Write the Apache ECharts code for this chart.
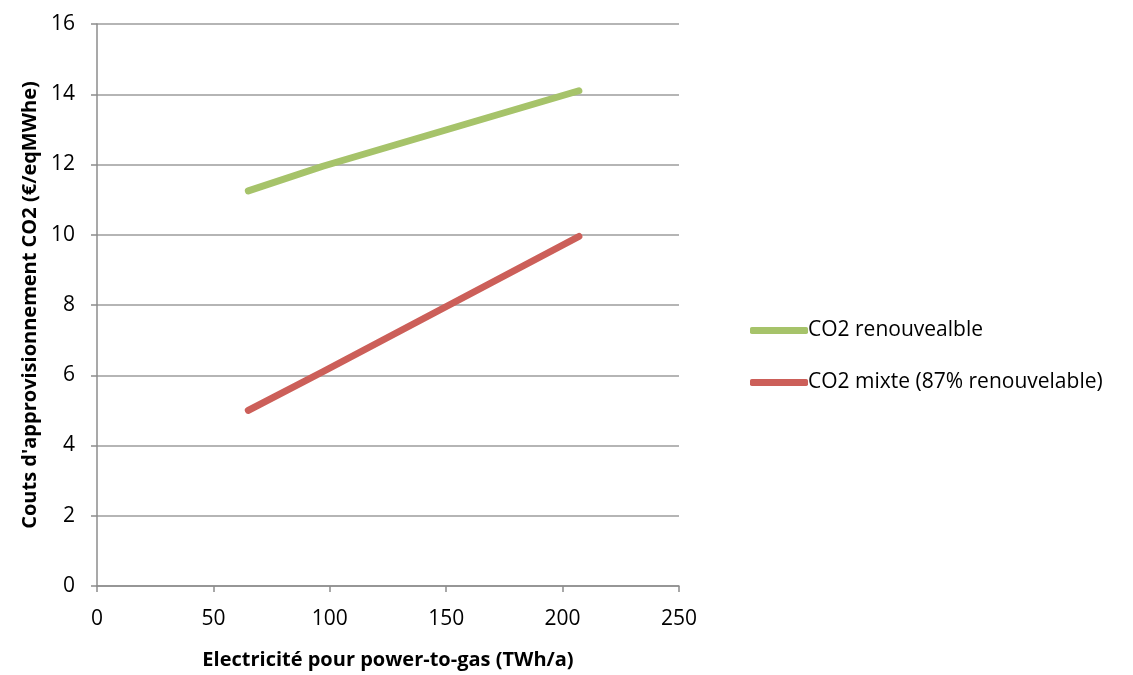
<!DOCTYPE html>
<html><head><meta charset="utf-8">
<script src="https://cdn.jsdelivr.net/npm/echarts@6/dist/echarts.min.js"></script>
<style>html,body{margin:0;padding:0;background:#fff}#c{width:1133px;height:675px}</style>
</head><body><div id="c"></div>
<script>
const seriesNames = ['CO2 renouvealble', 'CO2 mixte (87% renouvelable)'];
const greenX = [65, 97, 207];
const greenY = [11.25, 11.95, 14.1];
const redX = [65, 97, 207];
const redY = [5.0, 6.1, 9.95];
const xTitle = 'Electricité pour power-to-gas (TWh/a)';
const yTitle = "Couts d'approvisionnement CO2 (€/eqMWhe)";
const FONT = 'Open Sans';
const pair = (xs, ys) => xs.map((x, i) => [x, ys[i]]);
const chart = echarts.init(document.getElementById('c'));
chart.setOption({
  animation: false,
  grid: {left: 97, right: 454, top: 24, bottom: 89, containLabel: false, outerBoundsMode: 'none'},
  legend: {
    orient: 'vertical', left: 745, top: 315, itemGap: 31,
    itemWidth: 58, itemHeight: 7, icon: 'roundRect',
    textStyle: {fontFamily: FONT, fontSize: 21, color: '#000', padding: [0,0,0,-5]},
    data: seriesNames
  },
  xAxis: {
    type: 'value', min: 0, max: 250, interval: 50,
    name: xTitle, nameLocation: 'middle', nameGap: 64,
    nameTextStyle: {fontFamily: FONT, fontSize: 20, fontWeight: 'bold', color: '#000'},
    axisLine: {lineStyle: {color: '#8c8c8c', width: 1.5}},
    axisTick: {show: true, length: 6, lineStyle: {color: '#8c8c8c', width: 1.5}},
    axisLabel: {fontFamily: FONT, fontSize: 21, color: '#000', margin: 23},
    splitLine: {show: false}
  },
  yAxis: {
    type: 'value', min: 0, max: 16, interval: 2,
    name: yTitle, nameLocation: 'middle', nameGap: 56,
    nameTextStyle: {fontFamily: FONT, fontSize: 20, fontWeight: 'bold', color: '#000'},
    axisLine: {show: true, lineStyle: {color: '#8c8c8c', width: 1.5}},
    axisTick: {show: true, length: 6, lineStyle: {color: '#8c8c8c', width: 1.5}},
    axisLabel: {fontFamily: FONT, fontSize: 21, color: '#000', margin: 22},
    splitLine: {show: true, lineStyle: {color: '#9c9c9c', width: 1.5}}
  },
  series: [
    {name: seriesNames[0], type: 'line', data: pair(greenX, greenY), symbol: 'none',
     color: '#a6c36a', lineStyle: {width: 7, cap: 'round', join: 'round'}, itemStyle: {color: '#a6c36a'}},
    {name: seriesNames[1], type: 'line', data: pair(redX, redY), symbol: 'none',
     color: '#cc5f59', lineStyle: {width: 7, cap: 'round', join: 'round'}, itemStyle: {color: '#cc5f59'}}
  ]
});
</script></body></html>
